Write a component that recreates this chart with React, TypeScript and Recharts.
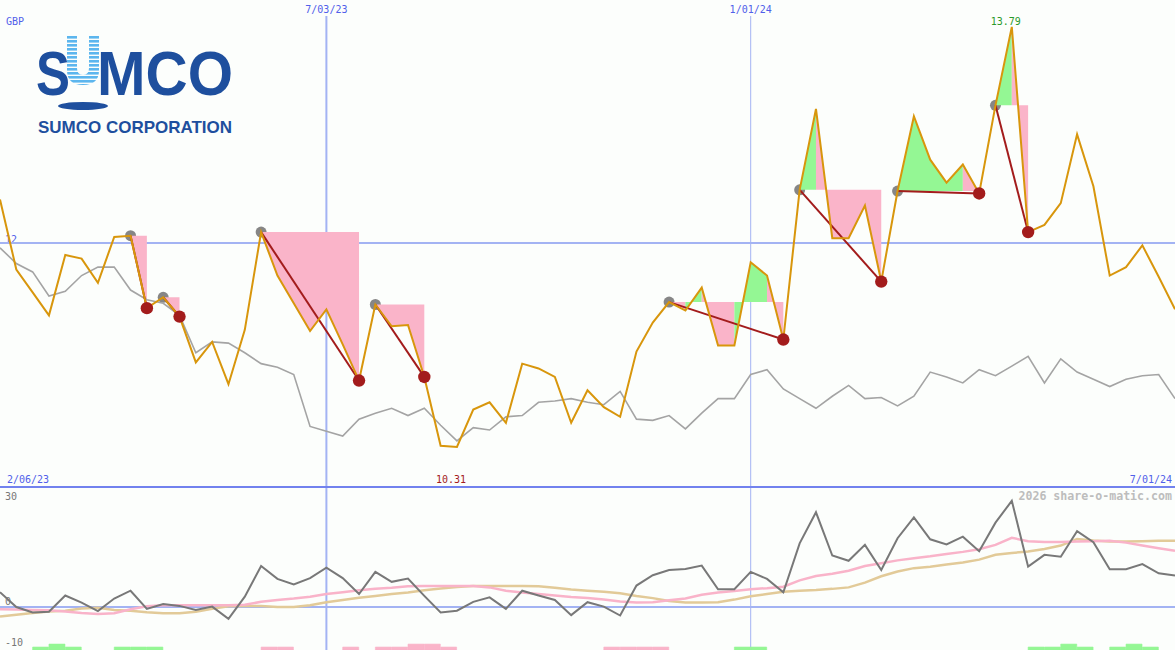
import React from 'react';
import { ComposedChart, Line, Area, Bar, Cell, XAxis, YAxis, ReferenceLine } from 'recharts';

const W = 1175;
const H = 650;
const TOP_H = 487;
const LOW_H = H - TOP_H;
const TOP_DOMAIN: [number, number] = [9.978, 14.013];
const LOW_DOMAIN: [number, number] = [-11.62, 32.43];

// weekly closing price (GBP)
const price = [
  12.36, 11.78, 11.59, 11.40, 11.90, 11.87, 11.67, 12.05, 12.06, 11.46,
  11.55, 11.39, 11.01, 11.18, 10.83, 11.28, 12.09, 11.73, 11.50, 11.27,
  11.45, 11.16, 10.86, 11.49, 11.31, 11.32, 10.89, 10.32, 10.31, 10.62,
  10.68, 10.51, 11.00, 10.96, 10.89, 10.51, 10.78, 10.64, 10.56, 11.10,
  11.34, 11.51, 11.44, 11.63, 11.15, 11.15, 11.84, 11.73, 11.20, 12.44,
  13.11, 12.04, 12.04, 12.31, 11.68, 12.43, 13.05, 12.69, 12.50, 12.65,
  12.41, 13.14, 13.79, 12.09, 12.15, 12.33, 12.90, 12.47, 11.73, 11.80,
  11.98, 11.72, 11.45,
];

// relative / comparison line (same axis)
const relative = [
  11.96, 11.83, 11.76, 11.56, 11.60, 11.73, 11.80, 11.80, 11.61, 11.53,
  11.50, 11.40, 11.09, 11.18, 11.17, 11.09, 11.00, 10.97, 10.91, 10.48,
  10.44, 10.40, 10.54, 10.59, 10.63, 10.57, 10.63, 10.49, 10.36, 10.47,
  10.45, 10.56, 10.57, 10.68, 10.69, 10.71, 10.68, 10.66, 10.77, 10.54,
  10.53, 10.57, 10.46, 10.59, 10.71, 10.71, 10.91, 10.95, 10.79, 10.71,
  10.63, 10.73, 10.82, 10.71, 10.72, 10.65, 10.73, 10.93, 10.89, 10.84,
  10.95, 10.90, 10.98, 11.06, 10.84, 11.04, 10.93, 10.87, 10.81, 10.87,
  10.90, 10.91, 10.71,
];

// lower panel: momentum
const momentum = [
  4.0, 0.0, -1.5, -1.3, 3.1, 1.2, -1.1, 2.3, 4.4, -0.5,
  0.8, 0.3, -0.8, 0.1, -3.2, 2.8, 11.1, 7.6, 6.1, 7.8,
  10.6, 7.8, 3.5, 9.5, 6.8, 7.7, 3.0, -1.5, -1.0, 1.4,
  2.6, -0.5, 4.4, 3.1, 1.9, -2.2, 1.3, 0.1, -2.3, 5.8,
  8.6, 10.0, 10.3, 11.2, 4.8, 4.8, 9.5, 7.6, 4.0, 17.2,
  25.6, 13.9, 12.5, 16.8, 10.0, 18.6, 24.2, 18.3, 16.9, 19.0,
  15.1, 22.8, 28.7, 10.9, 14.1, 13.6, 20.5, 17.5, 10.2, 10.2,
  11.6, 9.1, 8.5,
];

// lower panel: fast average (pink)
const maFast = [
  -0.6, -0.7, -0.8, -0.9, -1.2, -1.6, -1.9, -1.7, -0.6, 0.2,
  0.5, 0.5, 0.5, 0.5, 0.5, 0.6, 1.4, 1.9, 2.3, 2.8,
  3.5, 4.0, 4.5, 4.9, 5.2, 5.6, 5.7, 5.7, 5.7, 5.7,
  5.3, 4.4, 3.9, 3.5, 3.1, 2.7, 2.4, 2.0, 1.5, 1.2,
  1.3, 1.8, 2.3, 3.3, 3.9, 4.3, 4.8, 5.1, 5.5, 7.2,
  8.4, 9.0, 9.8, 11.1, 11.8, 12.6, 13.2, 13.7, 14.3, 14.9,
  15.6, 16.8, 18.7, 17.8, 17.6, 17.6, 17.7, 17.8, 17.9, 17.4,
  16.6, 15.9, 15.2,
];

// lower panel: slow average (tan)
const maSlow = [
  -2.6, -2.1, -1.6, -1.2, -1.0, -0.4, -0.2, -0.8, -1.0, -1.4,
  -1.7, -1.7, -1.3, -0.5, 0.2, 0.3, 0.3, 0.0, 0.0, 0.5,
  1.3, 1.9, 2.5, 3.0, 3.5, 3.9, 4.5, 5.0, 5.4, 5.7,
  5.7, 5.7, 5.7, 5.6, 5.2, 4.7, 4.4, 4.1, 3.7, 3.0,
  2.4, 1.6, 1.2, 1.2, 1.3, 2.0, 2.9, 3.5, 4.1, 4.4,
  4.6, 4.9, 5.3, 6.6, 8.3, 9.6, 10.5, 10.9, 11.5, 12.0,
  12.8, 14.1, 14.6, 15.0, 15.7, 16.6, 18.4, 18.0, 17.7, 17.7,
  17.8, 17.9, 17.9,
];

// swing highs -> following swing lows (week indices)
const swingHighs = [8, 10, 16, 23, 41, 49, 55, 61];
const swingLows = [9, 11, 22, 26, 48, 54, 60, 63];

// weekly signal bars (per week interval): +up / -down, magnitude 1..2
const signal = [
  0, 0, 1, 2, 1, 0, 0, 1, 1, 1,
  0, 0, 0, 0, 0, 0, -1, -1, 0, 0,
  0, -1, 0, -1, -1, -2, -2, -1, 0, 0,
  0, 0, 0, 0, 0, 0, 0, -1, -1, -1,
  -1, 0, 0, 0, 0, 1, 1, 0, 0, 0,
  0, 0, 0, 0, 0, 0, 0, 0, 0, 0,
  0, 0, 0, 1, 1, 2, 1, 0, 1, 2,
  1, 0,
];

const dateLineWeeks = [20, 46];
const dateLineLabels = ['7/03/23', '1/01/24'];
const startLabel = '2/06/23';
const endLabel = '7/01/24';
const currency = 'GBP';
const priceRefLevel = 12;
const lowTicks = [30, 0, -10];
const lowTickDy = [4, -2, 2];
const watermark = '2026 share-o-matic.com';

const BG = '#fcfefc';
const GRID = '#a3b3f3';
const AXIS_BLUE = '#7282ee';
const LABEL_BLUE = '#5060ea';
const ORANGE = '#d8960c';
const REL_GRAY = '#a4a4a4';
const PINK = '#fab4c9';
const GREEN = '#94f794';
const DARK_RED = '#a31c1c';
const MARK_GRAY = '#868686';
const MOM_GRAY = '#787878';
const MA_PINK = '#f9b3c9';
const MA_TAN = '#e2ca98';
const LOGO_BLUE = '#1e4f9e';
const FONT = '"DejaVu Sans Mono", monospace';

const n = price.length;
const xPix = (i: number) => (i * W) / (n - 1);
const yTop = (v: number) => ((TOP_DOMAIN[1] - v) / (TOP_DOMAIN[1] - TOP_DOMAIN[0])) * TOP_H;
const yLow = (v: number) => TOP_H + ((LOW_DOMAIN[1] - v) / (LOW_DOMAIN[1] - LOW_DOMAIN[0])) * LOW_H;
// value just below the date labels, where the vertical date lines begin
const dateLineTop = TOP_DOMAIN[1] - (16 / TOP_H) * (TOP_DOMAIN[1] - TOP_DOMAIN[0]);

type Row = Record<string, unknown>;

const topData: Row[] = price.map((p, i) => ({ x: i, price: p, rel: relative[i], hi: null, lo: null }));
const fillSeries: { key: string; color: string }[] = [];
const connectorKeys: string[] = [];

swingHighs.forEach((a, k) => {
  const b = swingLows[k];
  const level = price[a];
  topData[a].hi = level;
  topData[b].lo = price[b];
  const ck = `c${k}`;
  topData[a][ck] = level;
  topData[b][ck] = price[b];
  connectorKeys.push(ck);
  let current: { key: string; color: string } | null = null;
  for (let j = a; j < b; j++) {
    const color = price[j + 1] > level ? GREEN : PINK;
    if (!current || current.color !== color) {
      current = { key: `f${k}_${j}`, color };
      fillSeries.push(current);
      topData[j][current.key] = [level, price[j]];
    }
    topData[j + 1][current.key] = [level, price[j + 1]];
  }
});

const lowData: Row[] = momentum.map((m, i) => ({ x: i, mom: m, fast: maFast[i], slow: maSlow[i] }));

const barUnit = 0.8;
const signalData = signal.map((s, i) => ({
  k: i,
  s,
  band: [LOW_DOMAIN[0], LOW_DOMAIN[0] + Math.abs(s) * barUnit],
}));

let maxIdx = 0;
let minIdx = 0;
price.forEach((p, i) => {
  if (p > price[maxIdx]) maxIdx = i;
  if (p < price[minIdx]) minIdx = i;
});

const abs = (top: number, h: number): React.CSSProperties => ({
  position: 'absolute',
  left: 0,
  top,
  width: W,
  height: h,
});

const noMargin = { top: 0, right: 0, bottom: 0, left: 0 };

function Logo() {
  return (
    <svg width={250} height={140} style={{ position: 'absolute', left: 0, top: 0 }}>
      <defs>
        <pattern id="ustripes" width="4" height="4" patternUnits="userSpaceOnUse">
          <rect width="4" height="2.6" fill="#5cb6ee" />
        </pattern>
      </defs>
      <text
        x={36}
        y={95}
        fontFamily="'Liberation Sans', Arial, sans-serif"
        fontWeight={700}
        fontSize={63}
        fill={LOGO_BLUE}
        textLength={34}
        lengthAdjust="spacingAndGlyphs"
      >
        S
      </text>
      <path
        d="M67,35 H77 V68 Q77,75 83,75 Q89,75 89,68 V35 H99 V70 Q99,85 83,85 Q67,85 67,70 Z"
        fill="url(#ustripes)"
      />
      <text
        x={97}
        y={95}
        fontFamily="'Liberation Sans', Arial, sans-serif"
        fontWeight={700}
        fontSize={63}
        fill={LOGO_BLUE}
        textLength={136}
        lengthAdjust="spacingAndGlyphs"
      >
        MCO
      </text>
      <ellipse cx={83} cy={106} rx={25} ry={4} fill={LOGO_BLUE} />
      <text
        x={38}
        y={133}
        fontFamily="'Liberation Sans', Arial, sans-serif"
        fontWeight={700}
        fontSize={17}
        fill={LOGO_BLUE}
        textLength={194}
        lengthAdjust="spacingAndGlyphs"
      >
        SUMCO CORPORATION
      </text>
    </svg>
  );
}

export default function App() {
  return (
    <div style={{ position: 'absolute', left: 0, top: 0, width: W, height: H, background: BG, overflow: 'hidden' }}>
      <Logo />

      {/* background texts (under the series) */}
      <svg width={W} height={H} style={{ position: 'absolute', left: 0, top: 0 }}>
        <text x={5} y={yTop(priceRefLevel)} fontFamily={FONT} fontSize={10} fill={LABEL_BLUE}>
          {String(priceRefLevel)}
        </text>
        {lowTicks.map((t, i) => (
          <text key={t} x={5} y={yLow(t) + lowTickDy[i]} fontFamily={FONT} fontSize={10} fill="#777">
            {String(t)}
          </text>
        ))}
      </svg>

      {/* background grid + swing-high markers, top panel */}
      <div style={abs(0, TOP_H)}>
        <ComposedChart width={W} height={TOP_H} data={topData} margin={noMargin}>
          <XAxis dataKey="x" type="number" domain={[0, n - 1]} allowDataOverflow hide />
          <YAxis type="number" domain={TOP_DOMAIN} allowDataOverflow hide />
          <ReferenceLine y={priceRefLevel} stroke={GRID} strokeWidth={2} />
          {dateLineWeeks.map((w, i) => (
            <ReferenceLine
              key={w}
              segment={[
                { x: w, y: dateLineTop },
                { x: w, y: TOP_DOMAIN[0] },
              ]}
              stroke={GRID}
              strokeWidth={i === 0 ? 2 : 1}
            />
          ))}
          <Line
            dataKey="hi"
            stroke="none"
            dot={{ r: 5.5, fill: MARK_GRAY, stroke: 'none' }}
            activeDot={false}
            isAnimationActive={false}
          />
        </ComposedChart>
      </div>

      {/* background grid, lower panel */}
      <div style={abs(TOP_H, LOW_H)}>
        <ComposedChart width={W} height={LOW_H} data={lowData} margin={noMargin}>
          <XAxis dataKey="x" type="number" domain={[0, n - 1]} allowDataOverflow hide />
          <YAxis type="number" domain={LOW_DOMAIN} allowDataOverflow hide />
          <Line dataKey="mom" stroke="none" dot={false} activeDot={false} isAnimationActive={false} />
          <ReferenceLine y={0} stroke={GRID} strokeWidth={2} />
          {dateLineWeeks.map((w, i) => (
            <ReferenceLine key={w} x={w} stroke={GRID} strokeWidth={i === 0 ? 2 : 1} />
          ))}
        </ComposedChart>
      </div>

      {/* signal bars */}
      <div style={abs(TOP_H, LOW_H)}>
        <ComposedChart width={W} height={LOW_H} data={signalData} margin={noMargin} barCategoryGap={0} barGap={0}>
          <XAxis dataKey="k" type="category" hide />
          <YAxis type="number" domain={LOW_DOMAIN} allowDataOverflow hide />
          <Bar dataKey="band" isAnimationActive={false}>
            {signalData.map((d) => {
              const c = d.s > 0 ? GREEN : d.s < 0 ? PINK : 'none';
              return <Cell key={d.k} fill={c} stroke={c} strokeWidth={0.6} />;
            })}
          </Bar>
        </ComposedChart>
      </div>

      {/* top panel series */}
      <div style={abs(0, TOP_H + 2)}>
        <ComposedChart width={W} height={TOP_H + 2} data={topData} margin={{ top: 0, right: 0, bottom: 2, left: 0 }}>
          <XAxis dataKey="x" type="number" domain={[0, n - 1]} allowDataOverflow hide />
          <YAxis type="number" domain={TOP_DOMAIN} allowDataOverflow hide />
          <ReferenceLine y={TOP_DOMAIN[0]} stroke={AXIS_BLUE} strokeWidth={2} />
          <Line
            dataKey="rel"
            stroke={REL_GRAY}
            strokeWidth={1.6}
            dot={false}
            activeDot={false}
            isAnimationActive={false}
          />
          {fillSeries.map((f) => (
            <Area
              key={f.key}
              dataKey={f.key}
              type="linear"
              stroke="none"
              fill={f.color}
              fillOpacity={1}
              dot={false}
              activeDot={false}
              isAnimationActive={false}
            />
          ))}
          {connectorKeys.map((ck) => (
            <Line
              key={ck}
              dataKey={ck}
              stroke={DARK_RED}
              strokeWidth={2}
              connectNulls
              dot={false}
              activeDot={false}
              isAnimationActive={false}
            />
          ))}
          <Line
            dataKey="lo"
            stroke="none"
            dot={{ r: 6.2, fill: DARK_RED, stroke: 'none' }}
            activeDot={false}
            isAnimationActive={false}
          />
          <Line
            dataKey="price"
            stroke={ORANGE}
            strokeWidth={2}
            dot={false}
            activeDot={false}
            isAnimationActive={false}
          />
        </ComposedChart>
      </div>

      {/* lower panel series */}
      <div style={abs(TOP_H, LOW_H)}>
        <ComposedChart width={W} height={LOW_H} data={lowData} margin={noMargin}>
          <XAxis dataKey="x" type="number" domain={[0, n - 1]} allowDataOverflow hide />
          <YAxis type="number" domain={LOW_DOMAIN} allowDataOverflow hide />
          <Line dataKey="slow" stroke={MA_TAN} strokeWidth={2.5} dot={false} activeDot={false} isAnimationActive={false} />
          <Line dataKey="fast" stroke={MA_PINK} strokeWidth={2.5} dot={false} activeDot={false} isAnimationActive={false} />
          <Line dataKey="mom" stroke={MOM_GRAY} strokeWidth={2} dot={false} activeDot={false} isAnimationActive={false} />
        </ComposedChart>
      </div>

      {/* foreground texts */}
      <svg width={W} height={H} style={{ position: 'absolute', left: 0, top: 0, pointerEvents: 'none' }}>
        <text x={6} y={25} fontFamily={FONT} fontSize={10} fill={LABEL_BLUE}>
          {currency}
        </text>
        {dateLineWeeks.map((w, i) => (
          <text key={w} x={xPix(w)} y={13} textAnchor="middle" fontFamily={FONT} fontSize={10} fill={LABEL_BLUE}>
            {dateLineLabels[i]}
          </text>
        ))}
        <text x={xPix(maxIdx) - 6} y={25} textAnchor="middle" fontFamily={FONT} fontSize={10} fill="#2a9a2a">
          {price[maxIdx].toFixed(2)}
        </text>
        <text x={xPix(minIdx) - 6} y={483} textAnchor="middle" fontFamily={FONT} fontSize={10} fill={DARK_RED}>
          {price[minIdx].toFixed(2)}
        </text>
        <text x={7} y={483} fontFamily={FONT} fontSize={10} fill={LABEL_BLUE}>
          {startLabel}
        </text>
        <text x={W - 3} y={483} textAnchor="end" fontFamily={FONT} fontSize={10} fill={LABEL_BLUE}>
          {endLabel}
        </text>
        <text x={W - 3} y={500} textAnchor="end" fontFamily={FONT} fontSize={11.6} fontWeight={700} fill="#bdbdbd">
          {watermark}
        </text>
      </svg>
    </div>
  );
}
